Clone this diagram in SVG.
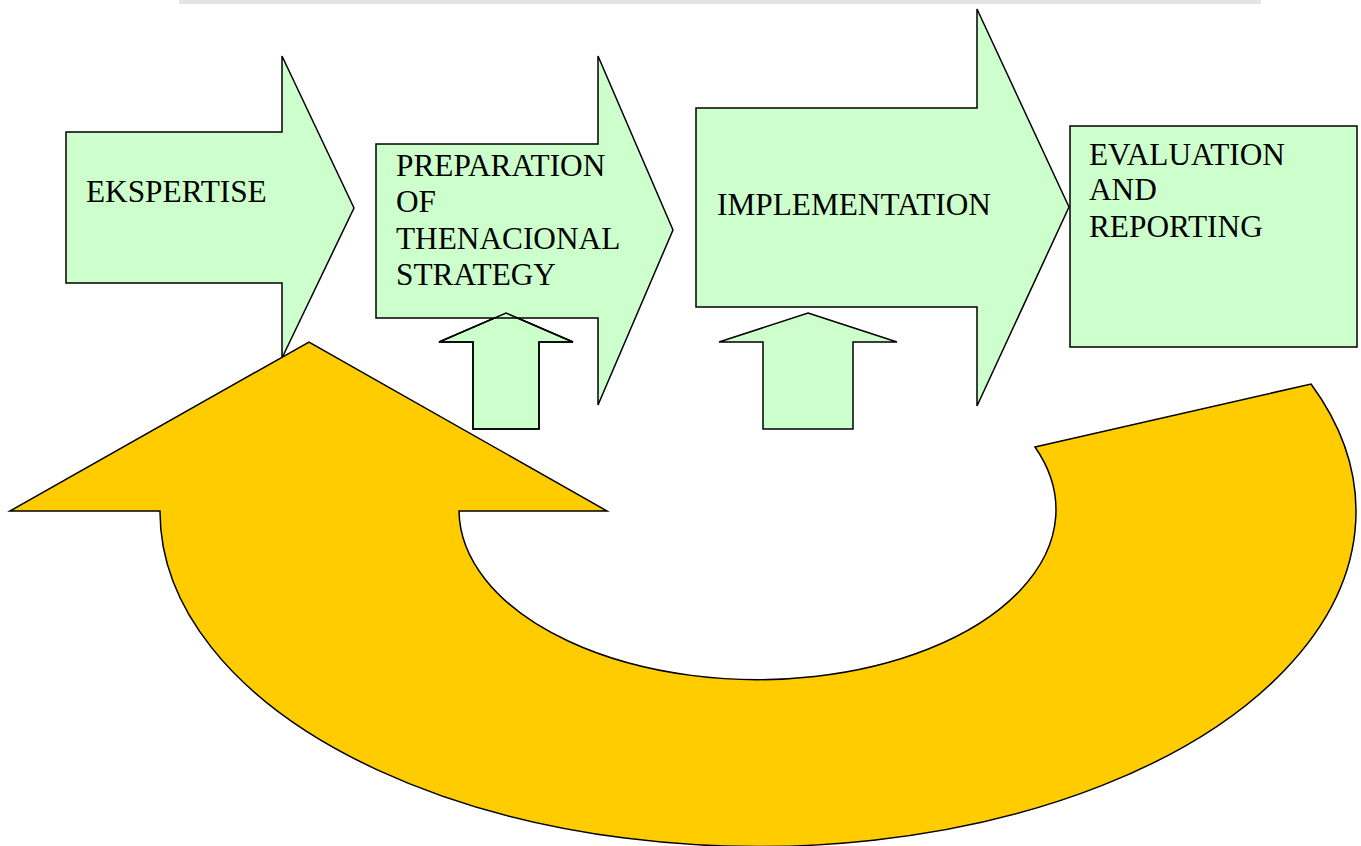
<svg xmlns="http://www.w3.org/2000/svg" width="1361" height="846" viewBox="0 0 1361 846">
<style>
.g{fill:#ccffcc;stroke:#000;stroke-width:1.5;stroke-linejoin:miter}
.o{fill:none;stroke:#000;stroke-width:1.5}
.y{fill:#ffcc00;stroke:#000;stroke-width:1.5}
.t{font-family:"Liberation Serif","Times New Roman",serif;font-size:31.3px;fill:#000}
</style>
<rect x="179" y="0" width="1082" height="4" fill="#e4e4e4"/>
<g id="up-arrow-a"><polygon class="g" points="506,313 573,342 539,342 539,429 473,429 473,342 439,342"/></g>
<g id="ekspertise">
<polygon class="g" points="66,132 282,132 282,56 354,208 282,358 282,283 66,283"/>
<text class="t" x="86" y="202">EKSPERTISE</text>
</g>
<g id="preparation">
<polygon class="g" points="376,144 598,144 598,56 673,230 598,405 598,318 376,318"/>
<text class="t" x="396" y="176">PREPARATION</text>
<text class="t" x="396" y="212">OF</text>
<text class="t" x="396" y="249">THENACIONAL</text>
<text class="t" x="396" y="285">STRATEGY</text>
</g>
<g id="up-arrow-a-outline"><polygon class="o" points="506,313 573,342 539,342 539,429 473,429 473,342 439,342"/></g>
<g id="implementation">
<polygon class="g" points="696,108 977,108 977,9 1069,207 977,406 977,307 696,307"/>
<text class="t" x="717" y="215">IMPLEMENTATION</text>
</g>
<g id="up-arrow-b"><polygon class="g" points="808,313 897,342 853,342 853,429 763,429 763,342 719,342"/></g>
<g id="evaluation">
<rect class="g" x="1070" y="126" width="287" height="221"/>
<text class="t" x="1089" y="165">EVALUATION</text>
<text class="t" x="1089" y="200">AND</text>
<text class="t" x="1089" y="237">REPORTING</text>
</g>
<g id="connectors">
<path class="y" d="M10,511 L309,342 L607,511 L459,511 A298.5,170 0 1 0 1035,447 L1311,384 A598,335 0 1 1 160,511 Z"/>
</g>
</svg>
